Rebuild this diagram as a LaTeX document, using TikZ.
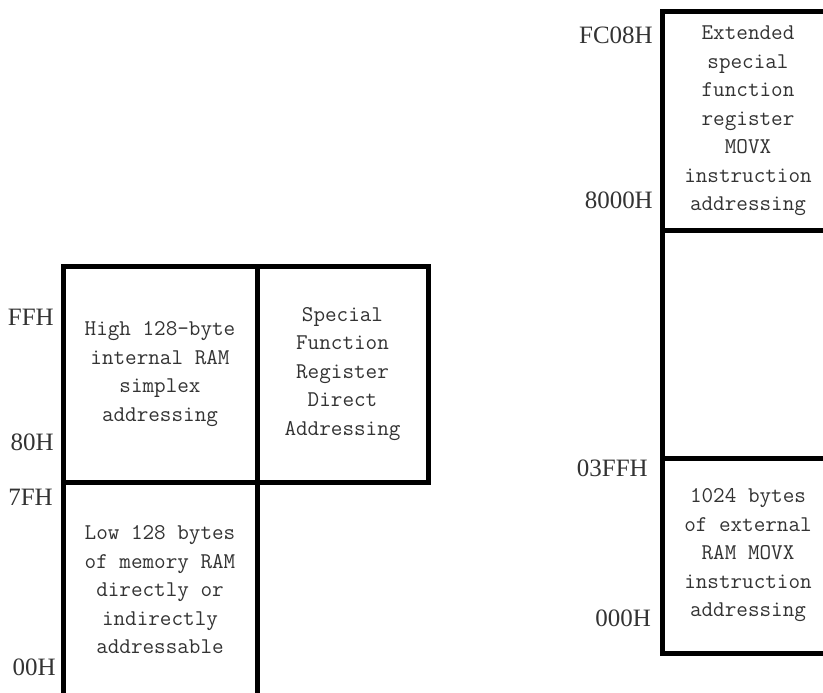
\documentclass[tikz,border=0pt]{standalone}
\usepackage{fontspec}
\usepackage{tikz}
\usetikzlibrary{positioning}
\newfontfamily\addrfont{Liberation Serif}
\tikzset{
    cell/.style={rectangle, draw, line width=5pt, align=center, inner sep=0pt,
        text=black!80, font={\ttfamily\fontsize{22.5pt}{28.5pt}\selectfont}},
    addr/.style={anchor=east, inner sep=0pt, text=black!80,
        font={\addrfont\fontsize{25pt}{28pt}\selectfont}}
}

\begin{document}
\begin{tikzpicture}[x=1pt, y=-1pt]
    \useasboundingbox (0,0) rectangle (823,693);

    % internal RAM
    \node[cell, minimum width=194pt, minimum height=216pt] (high) at (160,374)
        {High 128-byte\\internal RAM\\simplex\\addressing};
    \node[cell, minimum width=171pt, minimum height=216pt] (sfr) at (342.5,374)
        {Special\\Function\\Register\\Direct\\Addressing};
    \node[cell, minimum width=194pt, minimum height=216pt] (low) at (160,590)
        {Low 128 bytes\\of memory RAM\\directly or\\indirectly\\addressable};

    \node[addr] (ffh) at (54,317) {FFH};
    \node[addr] (h80) at (54,442) {80H};
    \node[addr] (h7f) at (53,497) {7FH};
    \node[addr] (h00) at (56,667) {00H};

    % external RAM
    \node[cell, minimum width=172pt, minimum height=218pt] (xsfr) at (748,121)
        {Extended\\special\\function\\register\\MOVX\\instruction\\addressing};
    \node[cell, minimum width=172pt, minimum height=228pt] (gap) at (748,344) {};
    \node[cell, minimum width=172pt, minimum height=195pt] (xram) at (748,555.5)
        {1024 bytes\\of external\\RAM MOVX\\instruction\\addressing};

    \node[addr] (fc08) at (653,35) {FC08H};
    \node[addr] (h8000) at (653,200) {8000H};
    \node[addr] (h03ff) at (648,468) {03FFH};
    \node[addr] (h000) at (651,618) {000H};
\end{tikzpicture}
\end{document}
